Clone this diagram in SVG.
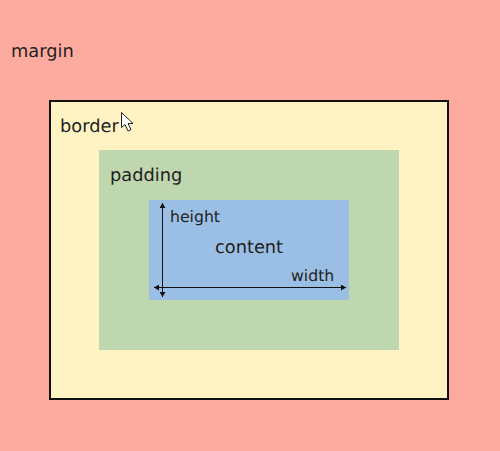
<svg xmlns="http://www.w3.org/2000/svg" width="500" height="451" viewBox="0 0 500 451">
<style>
text{font-family:"DejaVu Sans",sans-serif;fill:#222;text-rendering:geometricPrecision}
.l{font-size:17.8px}
.s{font-size:15.7px}
.c{stroke:#111;stroke-width:1;fill:none;marker-start:url(#a);marker-end:url(#a)}
</style>
<defs>
<marker id="a" viewBox="0 0 5 6" refX="5" refY="3" markerWidth="5" markerHeight="6" markerUnits="userSpaceOnUse" orient="auto-start-reverse"><path d="M0 0L5 3L0 6Z" fill="#111"/></marker>
</defs>
<rect width="500" height="451" fill="#fdab9f"/>
<g id="margin"><text class="l" x="11" y="57">margin</text></g>
<g id="border"><rect x="50" y="101" width="398" height="298" fill="#fff3c4" stroke="#111" stroke-width="2"/><text class="l" x="60" y="132">border</text></g>
<g id="padding"><rect x="99" y="150" width="300" height="200" fill="#bed7ae"/><text class="l" x="110" y="181">padding</text></g>
<g id="content"><rect x="149" y="200" width="200" height="100" fill="#9bbfe4"/><text class="s" x="170" y="222">height</text><text class="l" x="215" y="253">content</text><text class="s" x="291" y="281">width</text></g>
<g id="connectors"><path class="c" d="M162.500 203V297"/><path class="c" d="M154 287.500H346"/></g>
<path id="cursor" d="M121.500 112.500V127.500L125 124.500L128 131L131 129.500L128 123.500L133 123.500Z" fill="#fff" stroke="#222" stroke-width="1"/>
</svg>
